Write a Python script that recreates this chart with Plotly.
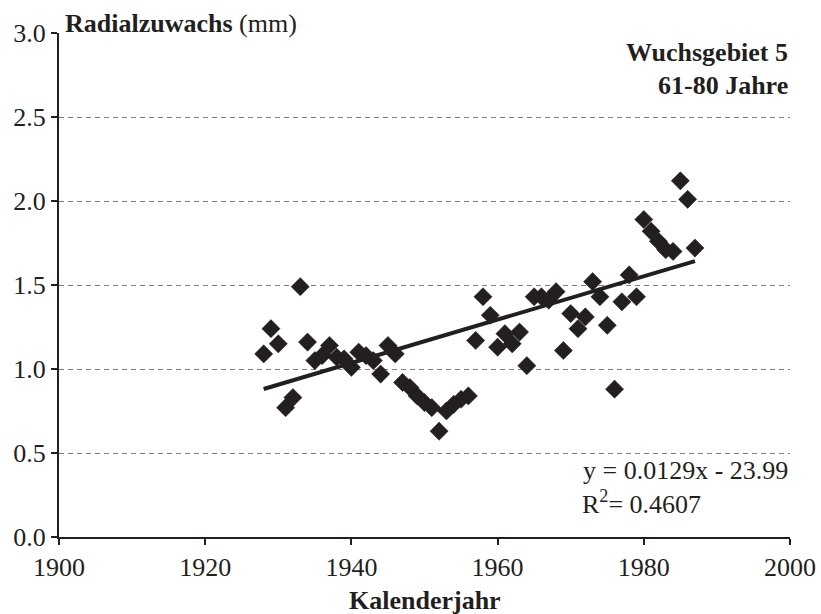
import plotly.graph_objects as go

# Annual mean radial increment, growth region 5, trees aged 61-80 years
years = list(range(1928, 1988))
increment_mm = [
    1.09, 1.24, 1.15, 0.77, 0.83, 1.49, 1.16, 1.05, 1.08, 1.14,
    1.07, 1.06, 1.01, 1.10, 1.08, 1.05, 0.97, 1.14, 1.09, 0.92,
    0.89, 0.84, 0.80, 0.77, 0.63, 0.75, 0.79, 0.82, 0.84, 1.17,
    1.43, 1.32, 1.13, 1.21, 1.15, 1.22, 1.02, 1.43, 1.43, 1.41,
    1.46, 1.11, 1.33, 1.24, 1.31, 1.52, 1.43, 1.26, 0.88, 1.40,
    1.56, 1.43, 1.89, 1.82, 1.76, 1.71, 1.70, 2.12, 2.01, 1.72,
]

# Linear trend as stated on the chart
slope = 0.0129
intercept = -23.99
trend_x = [years[0], years[-1]]
trend_y = [slope * x + intercept for x in trend_x]

x_ticks = [1900, 1920, 1940, 1960, 1980, 2000]
y_ticks = [0.0, 0.5, 1.0, 1.5, 2.0, 2.5, 3.0]

SERIF = "Liberation Serif, Times New Roman, serif"
INK = "#231f20"
FS = 26

fig = go.Figure()

fig.add_trace(go.Scatter(
    x=years, y=increment_mm, mode="markers",
    marker=dict(symbol="diamond", size=14, color=INK,
                line=dict(color=INK, width=0.5)),
    showlegend=False, hoverinfo="x+y",
))

fig.add_trace(go.Scatter(
    x=trend_x, y=trend_y, mode="lines",
    line=dict(color=INK, width=4),
    showlegend=False, hoverinfo="skip",
))

fig.update_layout(
    width=821, height=614,
    margin=dict(l=59, r=31, t=33, b=77),
    paper_bgcolor="white", plot_bgcolor="white",
    font=dict(family=SERIF, size=FS, color=INK),
    xaxis=dict(
        range=[1900, 2000], tickvals=x_ticks,
        ticktext=[str(v) for v in x_ticks],
        showgrid=False, zeroline=False, automargin=False,
        showline=True, linecolor=INK, linewidth=2,
        ticks="outside", ticklen=6, tickwidth=2, tickcolor=INK,
    ),
    yaxis=dict(
        range=[0, 3.0], tickvals=y_ticks,
        ticktext=[f"{v:.1f}" for v in y_ticks],
        showgrid=True, gridcolor="#808080", gridwidth=1, griddash="5px,4px",
        zeroline=False, automargin=False,
        showline=True, linecolor=INK, linewidth=2,
        ticks="outside", ticklen=6, tickwidth=2, tickcolor=INK,
    ),
    annotations=[
        dict(text="<b>Kalenderjahr</b>", xref="paper", yref="paper",
             x=0.5, y=0.0, xanchor="center", yanchor="middle", yshift=-63,
             showarrow=False, font=dict(size=FS)),
        dict(text="<b>Radialzuwachs</b> (mm)", xref="paper", yref="paper",
             x=0.0, y=1.0, xanchor="left", yanchor="bottom", xshift=4, yshift=-7,
             showarrow=False, font=dict(size=FS)),
        dict(text="<b>Wuchsgebiet 5</b>", xref="paper", yref="paper",
             x=1.0, y=1.0, xanchor="right", yanchor="middle", yshift=-19,
             showarrow=False, font=dict(size=FS)),
        dict(text="<b>61-80 Jahre</b>", xref="paper", yref="paper",
             x=1.0, y=1.0, xanchor="right", yanchor="middle", yshift=-52,
             showarrow=False, font=dict(size=FS)),
        dict(text="y = 0.0129x - 23.99", xref="paper", yref="paper",
             x=1.0, y=0.0, xanchor="right", yanchor="middle", yshift=67,
             showarrow=False, font=dict(size=FS)),
        dict(text="R<sup>2</sup>= 0.4607", xref="paper", yref="paper",
             x=0.713, y=0.0, xanchor="left", yanchor="middle", yshift=35,
             showarrow=False, font=dict(size=FS)),
    ],
)

fig.write_html("out.html")
